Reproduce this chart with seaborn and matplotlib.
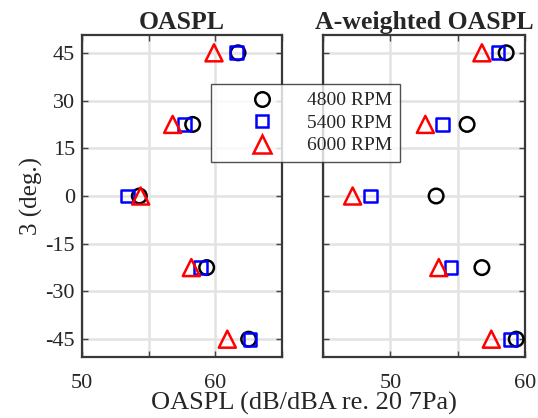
import numpy as np
import pandas as pd
import matplotlib
matplotlib.use('Agg')
import matplotlib.pyplot as plt
import seaborn as sns

# observer angle (deg.)
theta = [45, 22.5, 0, -22.5, -45]
rpm_labels = ['4800 RPM', '5400 RPM', '6000 RPM']

# OASPL (dB)
oaspl_4800 = [61.7, 58.3, 54.3, 59.35, 62.5]
oaspl_5400 = [61.6, 57.7, 53.4, 58.9, 62.6]
oaspl_6000 = [59.9, 56.8, 54.4, 58.2, 60.9]

# A-weighted OASPL (dBA)
aoaspl_4800 = [58.6, 55.7, 53.4, 56.8, 59.35]
aoaspl_5400 = [58.0, 53.9, 48.5, 54.5, 58.9]
aoaspl_6000 = [56.8, 52.6, 47.2, 53.6, 57.5]

sns.set_theme(style='white')
plt.rcParams['font.family'] = ['Liberation Serif', 'DejaVu Serif']

styles = [('o', 'black', 110), ('s', 'blue', 85), ('^', 'red', 150)]

fig = plt.figure(figsize=(5.38, 4.18), dpi=100)
ax1 = fig.add_axes([82/538, 61/418, 200/538, 322/418])
ax2 = fig.add_axes([323/538, 61/418, 202/538, 322/418])


def draw(ax, series, title, xlim, xticks, xticklabels):
    handles = []
    for vals, (m, c, s), lab in zip(series, styles, rpm_labels):
        df = pd.DataFrame({'x': vals, 'y': theta})
        sns.scatterplot(data=df, x='x', y='y', marker=m, s=s, fc='none',
                        ec=c, linewidth=1.8, ax=ax, zorder=3)
        h = plt.Line2D([], [], ls='none', marker=m, mfc='none', mec=c,
                       mew=1.8, ms=np.sqrt(s))
        handles.append(h)
    ax.set_xlim(xlim)
    ax.set_ylim(-50.6, 50.6)
    ax.set_xticks(xticks)
    ax.set_xticklabels(xticklabels)
    ax.set_yticks([-45, -30, -15, 0, 15, 30, 45])
    ax.grid(True, color='#e3e3e3', lw=1.8, zorder=0)
    ax.set_axisbelow(True)
    ax.tick_params(direction='in', length=4, width=1, color='#444444',
                   top=True, right=True, bottom=True, left=True,
                   labelsize=16, labelcolor='#262626')
    ax.tick_params(axis='x', pad=12)
    ax.tick_params(axis='y', pad=5)
    for sp in ax.spines.values():
        sp.set_color('#383838')
        sp.set_linewidth(1.6)
    ax.set_title(title, fontsize=18.5, fontweight='bold', pad=4)
    ax.set_xlabel('')
    ax.set_ylabel('')
    return handles


handles = draw(ax1, [oaspl_4800, oaspl_5400, oaspl_6000], 'OASPL',
               (50, 65), [50, 55, 60, 65], ['50', '', '60', ''])
draw(ax2, [aoaspl_4800, aoaspl_5400, aoaspl_6000], 'A-weighted OASPL',
     (45, 60), [45, 50, 55, 60], ['', '50', '', '60'])
ax1.set_yticklabels(['-45', '-30', '-15', '0', '15', '30', '45'])
ax2.set_yticklabels([])
ax1.set_ylabel('3 (deg.)', fontsize=18, color='#262626', labelpad=2)

fig.text(304/538, 1 - 403/418, 'OASPL (dB/dBA re. 20 7Pa)', ha='center',
         va='center', fontsize=19, color='#262626')

leg = fig.legend(handles, rpm_labels, loc='upper left',
                 bbox_to_anchor=(211/538, 1 - 84/418), borderaxespad=0,
                 frameon=True, fancybox=False, fontsize=14,
                 handletextpad=0.1, borderpad=0.4, labelspacing=0.25,
                 handlelength=4.45)
leg.get_frame().set_edgecolor('#262626')
leg.get_frame().set_linewidth(1.0)
leg.set_zorder(10)

fig.savefig('out.png', dpi=100)
